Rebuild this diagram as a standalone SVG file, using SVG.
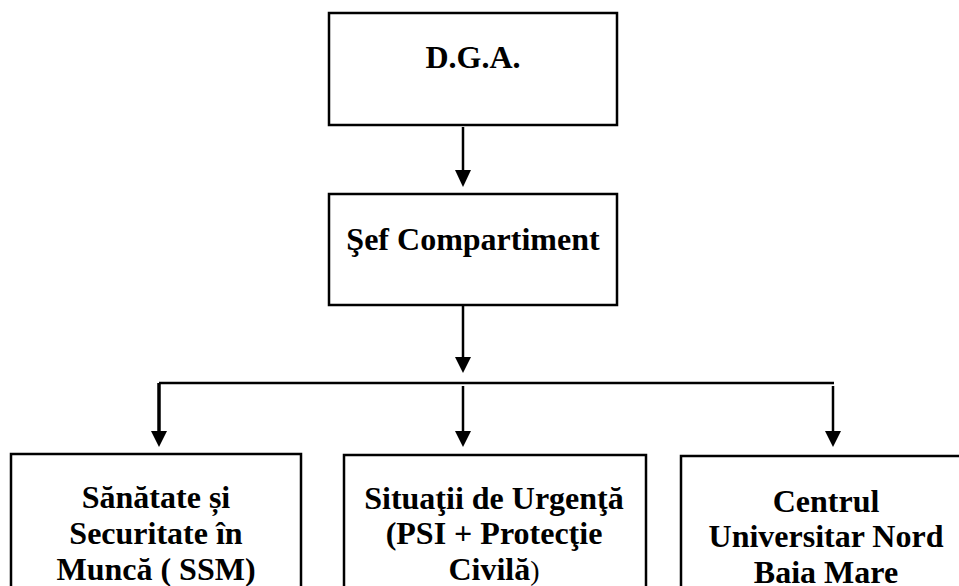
<svg xmlns="http://www.w3.org/2000/svg" width="959" height="586" viewBox="0 0 959 586">
<style>
.box{fill:#fff;stroke:#000;stroke-width:2.5}
.t{font-weight:bold;font-size:32px;fill:#000;text-anchor:middle}
.c{stroke:#000;stroke-width:2.5;fill:none}
.h{fill:#000}
</style>
<rect width="959" height="586" fill="#fff"/>
<g id="connectors">
<line class="c" x1="463" y1="127" x2="463" y2="170"/>
<path class="h" d="M455,170 L471,170 L463,187 Z"/>
<line class="c" x1="463" y1="306" x2="463" y2="357"/>
<path class="h" d="M455,357 L471,357 L463,373 Z"/>
<line class="c" x1="159" y1="383" x2="834" y2="383"/>
<line x1="159" y1="383" x2="159" y2="431" stroke="#000" stroke-width="3.5"/>
<path class="h" d="M151,431 L167,431 L159,447 Z"/>
<line class="c" x1="463" y1="386" x2="463" y2="431"/>
<path class="h" d="M455,431 L471,431 L463,447 Z"/>
<line class="c" x1="833" y1="386" x2="833" y2="431"/>
<path class="h" d="M825,431 L841,431 L833,447 Z"/>
</g>
<g font-family="Liberation Serif, serif">
<g id="dga">
<rect class="box" x="329" y="13" width="288" height="112"/>
<text class="t" x="473" y="68">D.G.A.</text>
</g>
<g id="sef">
<rect class="box" x="329" y="194" width="288" height="111"/>
<text class="t" x="473" y="250">Şef Compartiment</text>
</g>
<g id="ssm">
<rect class="box" x="11" y="454" width="290" height="150"/>
<text class="t" x="156" y="508">Sănătate și</text>
<text class="t" x="156" y="544">Securitate în</text>
<text class="t" x="156" y="580">Muncă ( SSM)</text>
</g>
<g id="urgenta">
<rect class="box" x="344" y="455" width="302" height="150"/>
<text class="t" x="494" y="509">Situaţii de Urgenţă</text>
<text class="t" x="494" y="544">(PSI + Protecţie</text>
<text class="t" x="494" y="580">Civilă<tspan font-weight="normal" font-size="28">)</tspan></text>
</g>
<g id="centrul">
<rect class="box" x="681" y="456" width="292" height="150"/>
<text class="t" x="826" y="512">Centrul</text>
<text class="t" x="826" y="547">Universitar Nord</text>
<text class="t" x="826" y="583">Baia Mare</text>
</g>
</g>
</svg>
